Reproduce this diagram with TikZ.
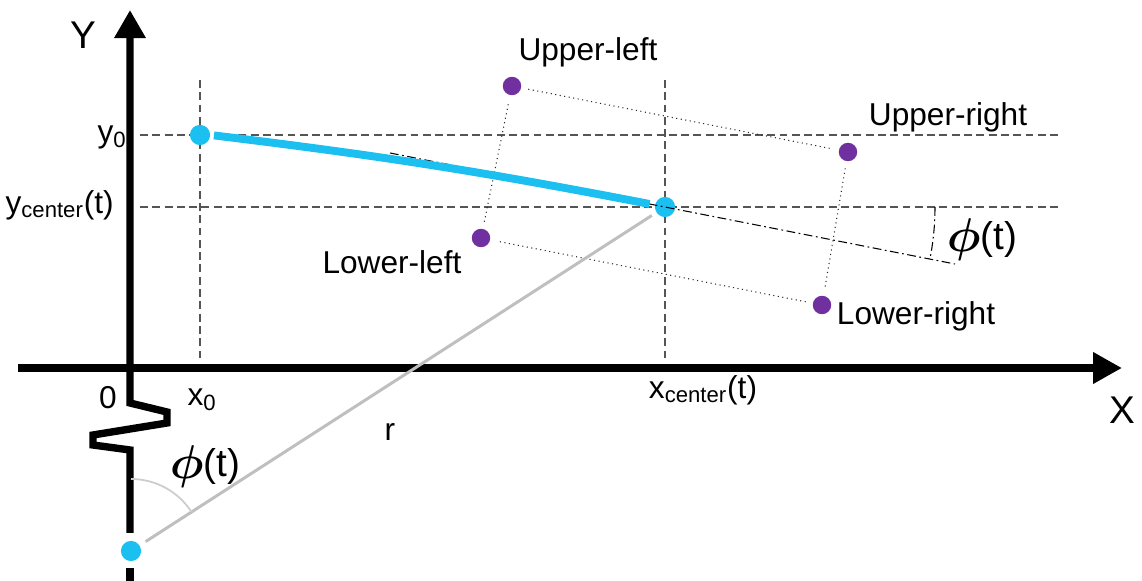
\documentclass[tikz,border=0pt]{standalone}
\usepackage{amsmath}
\usepackage{fontspec}
\setmainfont{Liberation Sans}
\usetikzlibrary{arrows.meta}
\definecolor{cyandot}{HTML}{1CC0F0}
\definecolor{purpledot}{HTML}{7030A0}
\definecolor{guide}{HTML}{555555}
\definecolor{rayg}{HTML}{BFBFBF}
\newcommand{\phit}{\raisebox{-0.1ex}{\scalebox{1.3}{$\boldsymbol{\phi}$}}(t)}
\begin{document}
\begin{tikzpicture}[x=0.02cm,y=0.02cm,
 axis/.style={line width=4.2pt},
 guideline/.style={draw=guide, line width=0.8pt, dash pattern=on 4.5pt off 2.5pt},
 cdot/.style={circle, fill=cyandot, inner sep=0pt, minimum size=11.5pt},
 pdot/.style={circle, fill=purpledot, inner sep=0pt, minimum size=10.5pt},
 edge/.style={draw=black!85, line width=0.6pt, dotted, shorten <=4pt, shorten >=4pt},
 lbl/.style={font=\fontsize{18}{20}\selectfont, inner sep=0pt},
 big/.style={font=\fontsize{22}{24}\selectfont, inner sep=0pt},
 dashdot/.style={line width=0.6pt, dash pattern=on 5pt off 2pt on 1pt off 2pt}]
\useasboundingbox (0,0) rectangle (1142,581);
% guide lines
\draw[guideline] (140,446) -- (1060,446);
\draw[guideline] (140,374) -- (1060,374);
\draw[guideline] (200,501) -- (200,219);
\draw[guideline] (665,501) -- (665,219);
% axes
\draw[axis, -{Triangle[length=16.5pt,width=17pt]}] (18,213) -- (1122,213);
\draw[axis] (130,0) -- (130,13);
\draw[axis, -{Triangle[length=16pt,width=17pt]}] (130,48) -- (130,131) -- (93,136) -- (93,146) -- (167,158) -- (167,169) -- (130,178) -- (130,571);
% points
\node[cdot] (A) at (200,446) {};
\node[cdot] (C) at (665,374) {};
\node[cdot] (P) at (131,30) {};
\node[pdot] (UL) at (512,495) {};
\node[pdot] (UR) at (848,429) {};
\node[pdot] (LL) at (481,343) {};
\node[pdot] (LR) at (822,276) {};
% rotated axis line
\coordinate (dd1) at (390,428);
\coordinate (dd2) at (955,317);
\draw[dashdot] (dd1) -- (dd2);
\draw[dashdot] (935,374) arc[start angle=0, end angle=-11.1, radius=270];
% rectangle edges
\draw[edge] (UL) -- (UR);
\draw[edge] (UR) -- (LR);
\draw[edge] (LR) -- (LL);
\draw[edge] (LL) -- (UL);
% trajectory
\draw[cyandot, line width=4.5pt, shorten <=2pt, shorten >=3pt] (A.east) to[bend left=2] (C);
% radius
\draw[rayg, line width=1.7pt, shorten <=4pt, shorten >=3pt] (P) -- (C);
\draw[rayg!80, line width=1pt] (131,102) arc[start angle=90, end angle=32.8, radius=72];
% labels
\node[big] (Ylab) at (83,546) {Y};
\node[big] (Xlab) at (1122,171) {X};
\node[lbl] (zero) at (108,183) {0};
\node[lbl] (x0) at (202,181) {x\textsubscript{0}};
\node[lbl] (xc) at (703,191) {x\textsubscript{center}(t)};
\node[lbl, anchor=east] (y0) at (127,444) {y\textsubscript{0}};
\node[lbl, anchor=east] (yc) at (114,376) {y\textsubscript{center}(t)};
\node[lbl] (r) at (390,149) {r};
\node[big] (phi1) at (205,114) {\phit};
\node[big] (phi2) at (982,341) {\phit};
\node[lbl] (tUL) at (588,529) {Upper-left};
\node[lbl] (tUR) at (948,464) {Upper-right};
\node[lbl] (tLL) at (392,319) {Lower-left};
\node[lbl] (tLR) at (916,265) {Lower-right};
\end{tikzpicture}
\end{document}
